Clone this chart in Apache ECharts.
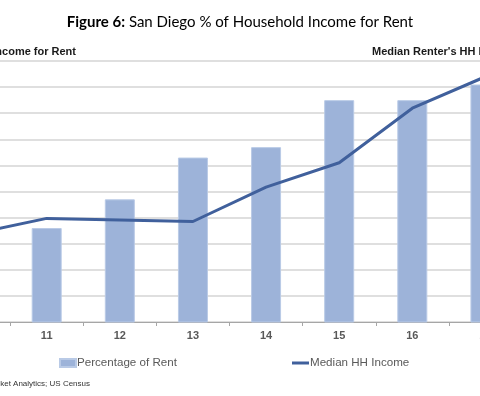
<!DOCTYPE html>
<html>
<head>
<meta charset="utf-8">
<script src="https://cdn.jsdelivr.net/npm/echarts@6/dist/echarts.min.js"></script>
<style>
  html, body { margin: 0; padding: 0; background: #fff; }
  #chart { width: 480px; height: 396px; }
</style>
</head>
<body>
<div id="chart"></div>
<script>
// year labels (20xx)
const years = ["10", "11", "12", "13", "14", "15", "16", "17"];
// % of household income spent on rent
const rentShare = [33.0, 33.6, 34.7, 36.3, 36.7, 38.5, 38.5, 39.1];
// median renter's household income ($)
const medianIncome = [46760, 47940, 47820, 47700, 50340, 52200, 56380, 58800];

const barColor = "#9db3d9";
const lineColor = "#40609c";
const labelFont = "'Liberation Sans', Arial, sans-serif";

const chart = echarts.init(document.getElementById("chart"));
chart.setOption({
  backgroundColor: "#fff",
  animation: false,
  title: {
    text: "{b|Figure 6:} San Diego % of Household Income for Rent",
    left: "center",
    top: 10,
    textStyle: {
      fontFamily: "Lato, sans-serif",
      fontSize: 15,
      fontWeight: "normal",
      color: "#000",
      rich: {
        b: { fontFamily: "Lato, sans-serif", fontSize: 15, fontWeight: "bold", color: "#000" }
      }
    }
  },
  graphic: [
    {
      type: "text", right: 404, top: 46,
      style: { text: "% of Household Income for Rent", font: "bold 11px " + labelFont, fill: "#1a1a1a" }
    },
    {
      type: "text", left: 372, top: 46,
      style: { text: "Median Renter's HH Income", font: "bold 11px " + labelFont, fill: "#1a1a1a" }
    },
    {
      type: "text", right: 390, top: 380,
      style: { text: "Source: CoStar Market Analytics; US Census", font: "8px " + labelFont, fill: "#333" }
    }
  ],
  legend: [
    {
      data: ["Percentage of Rent"],
      left: 59, top: 357, padding: 0,
      itemWidth: 16, itemHeight: 8,
      icon: "rect",
      textStyle: { fontFamily: labelFont, fontSize: 11.6, color: "#595959", padding: [0, 0, 0, -4] }
    },
    {
      data: ["Median HH Income"],
      left: 292, top: 357, padding: 0,
      itemWidth: 17, itemHeight: 3,
      icon: "rect",
      textStyle: { fontFamily: labelFont, fontSize: 11.6, color: "#595959", padding: [0, 0, 0, -4] }
    }
  ],
  grid: { left: -63, right: -42, top: 61, bottom: 74, containLabel: false, outerBoundsMode: "none" },
  xAxis: {
    type: "category",
    data: years,
    boundaryGap: true,
    axisLine: { lineStyle: { color: "#a6a6a6", width: 1 } },
    axisTick: { show: true, length: 4, lineStyle: { color: "#a6a6a6" } },
    axisLabel: { fontFamily: labelFont, fontSize: 11, fontWeight: "bold", color: "#595959", margin: 8 }
  },
  yAxis: [
    {
      type: "value",
      min: 30, max: 40, interval: 1,
      axisLine: { show: false },
      axisTick: { show: false },
      axisLabel: { formatter: "{value}%" },
      splitLine: { lineStyle: { color: "#d4d4d4", width: 1.5 } }
    },
    {
      type: "value",
      position: "right",
      min: 40000, max: 60000, interval: 2000,
      axisLine: { show: false },
      axisTick: { show: false },
      splitLine: { show: false }
    }
  ],
  series: [
    {
      name: "Percentage of Rent",
      type: "bar",
      data: rentShare,
      barWidth: 30,
      itemStyle: { color: barColor, borderColor: "#b9cae6", borderWidth: 1 }
    },
    {
      name: "Median HH Income",
      type: "line",
      yAxisIndex: 1,
      data: medianIncome,
      showSymbol: false,
      symbol: "none",
      lineStyle: { color: lineColor, width: 3 },
      itemStyle: { color: lineColor }
    }
  ]
});
</script>
</body>
</html>
